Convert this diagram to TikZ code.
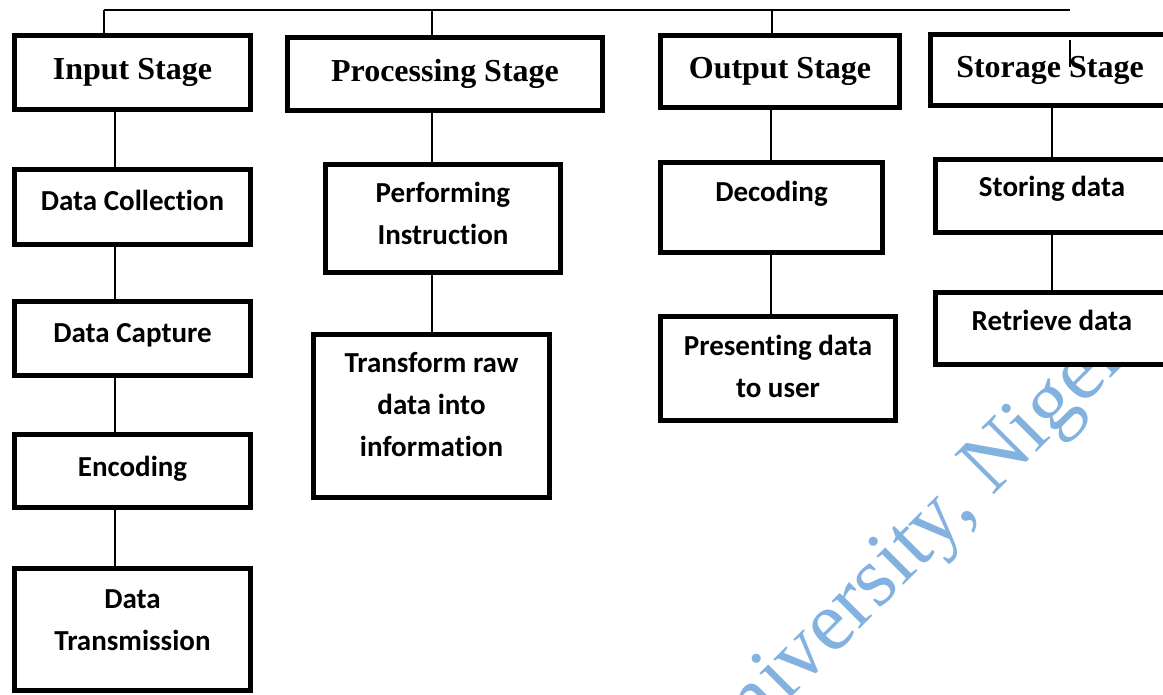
\documentclass[tikz,border=0pt]{standalone}
\usepackage{fontspec}
\setmainfont{Liberation Serif}
\newfontfamily\calibfont{Carlito}[Ligatures=NoCommon]
\definecolor{wmblue}{RGB}{131,178,224}
\newcommand\lifted[2]{\raisebox{#1}[\height][\depth]{\begin{tabular}{@{}c@{}}#2\end{tabular}}}
\tikzset{
  stage/.style={draw, line width=3.75pt, fill=white, inner sep=0pt,
    font=\bfseries\fontsize{24}{29}\selectfont},
  task/.style={draw, line width=3.75pt, fill=white, inner sep=0pt, align=center,
    font=\calibfont\bfseries\fontsize{21.75}{31.5}\selectfont},
  link/.style={line width=1.5pt}
}

\begin{document}
\begin{tikzpicture}[x=0.75pt,y=-0.75pt]
\useasboundingbox (0,0) rectangle (1163,694);
\clip (0,0) rectangle (1163,694);
% watermark
\node[rotate=45, anchor=base west, text=wmblue, font=\fontsize{64}{70}\selectfont] (wm) at (708,781) {University, Nigeria};

% stages
\node[stage, minimum width=177pt, minimum height=55.5pt] (in) at (132.5,72.5) {Input Stage};
\node[stage, minimum width=236.25pt, minimum height=54.75pt] (pr) at (445,74) {Processing Stage};
\node[stage, minimum width=179.25pt, minimum height=54pt] (out) at (780,71.5) {Output Stage};
\node[stage, minimum width=179.25pt, minimum height=53.25pt] (st) at (1050,70) {Storage Stage};

% input column
\node[task, minimum width=177pt, minimum height=56.25pt] (dcol) at (132.5,207) {\lifted{3.75pt}{Data Collection}};
\node[task, minimum width=177pt, minimum height=55.5pt] (dcap) at (132.5,338.5) {\lifted{3pt}{Data Capture}};
\node[task, minimum width=177pt, minimum height=54.75pt] (enc) at (132.5,471) {\lifted{2.25pt}{Encoding}};
\node[task, minimum width=177pt, minimum height=91.5pt] (dtr) at (132.5,629.5) {\lifted{6pt}{Data\\Transmission}};

% processing column
\node[task, minimum width=176.25pt, minimum height=81pt] (perf) at (443,218.5) {\lifted{2.25pt}{Performing\\Instruction}};
\node[task, minimum width=177pt, minimum height=122.25pt] (trf) at (431.5,416) {\lifted{7.5pt}{Transform raw\\data into\\information}};

% output column
\node[task, minimum width=166.5pt, minimum height=67.5pt] (dec) at (771.5,207.5) {\lifted{11pt}{Decoding}};
\node[task, minimum width=176.25pt, minimum height=78pt] (pres) at (778,368.5) {\lifted{0pt}{Presenting data\\to user}};

% storage column
\node[task, minimum width=174.75pt, minimum height=54.75pt] (sto) at (1052,196) {\lifted{6pt}{Storing data}};
\node[task, minimum width=174.75pt, minimum height=54pt] (ret) at (1052,328.5) {\lifted{4.5pt}{Retrieve data}};

% bus
\coordinate (busL) at (104,10);
\coordinate (busP) at (432,10);
\coordinate (busO) at (772,10);
\coordinate (busR) at (1070,10);
\coordinate (tickA) at (1070,40);
\coordinate (tickB) at (1070,67);
\draw[link] (busL) -- (busR);
\draw[link] (busL) -- (busL |- in.north);
\draw[link] (busP) -- (busP |- pr.north);
\draw[link] (busO) -- (busO |- out.north);
\draw[line width=1pt] (tickA) -- (tickB);

% columns
\coordinate (colI) at (115,0);
\coordinate (colP) at (432,0);
\coordinate (colO) at (771,0);
\coordinate (colS) at (1052,0);
\draw[link] (in.south -| colI) -- (dcol.north -| colI);
\draw[link] (dcol.south -| colI) -- (dcap.north -| colI);
\draw[link] (dcap.south -| colI) -- (enc.north -| colI);
\draw[link] (enc.south -| colI) -- (dtr.north -| colI);
\draw[link] (pr.south -| colP) -- (perf.north -| colP);
\draw[link] (perf.south -| colP) -- (trf.north -| colP);
\draw[link] (out.south -| colO) -- (dec.north -| colO);
\draw[link] (dec.south -| colO) -- (pres.north -| colO);
\draw[link] (st.south -| colS) -- (sto.north -| colS);
\draw[link] (sto.south -| colS) -- (ret.north -| colS);
\end{tikzpicture}
\end{document}
